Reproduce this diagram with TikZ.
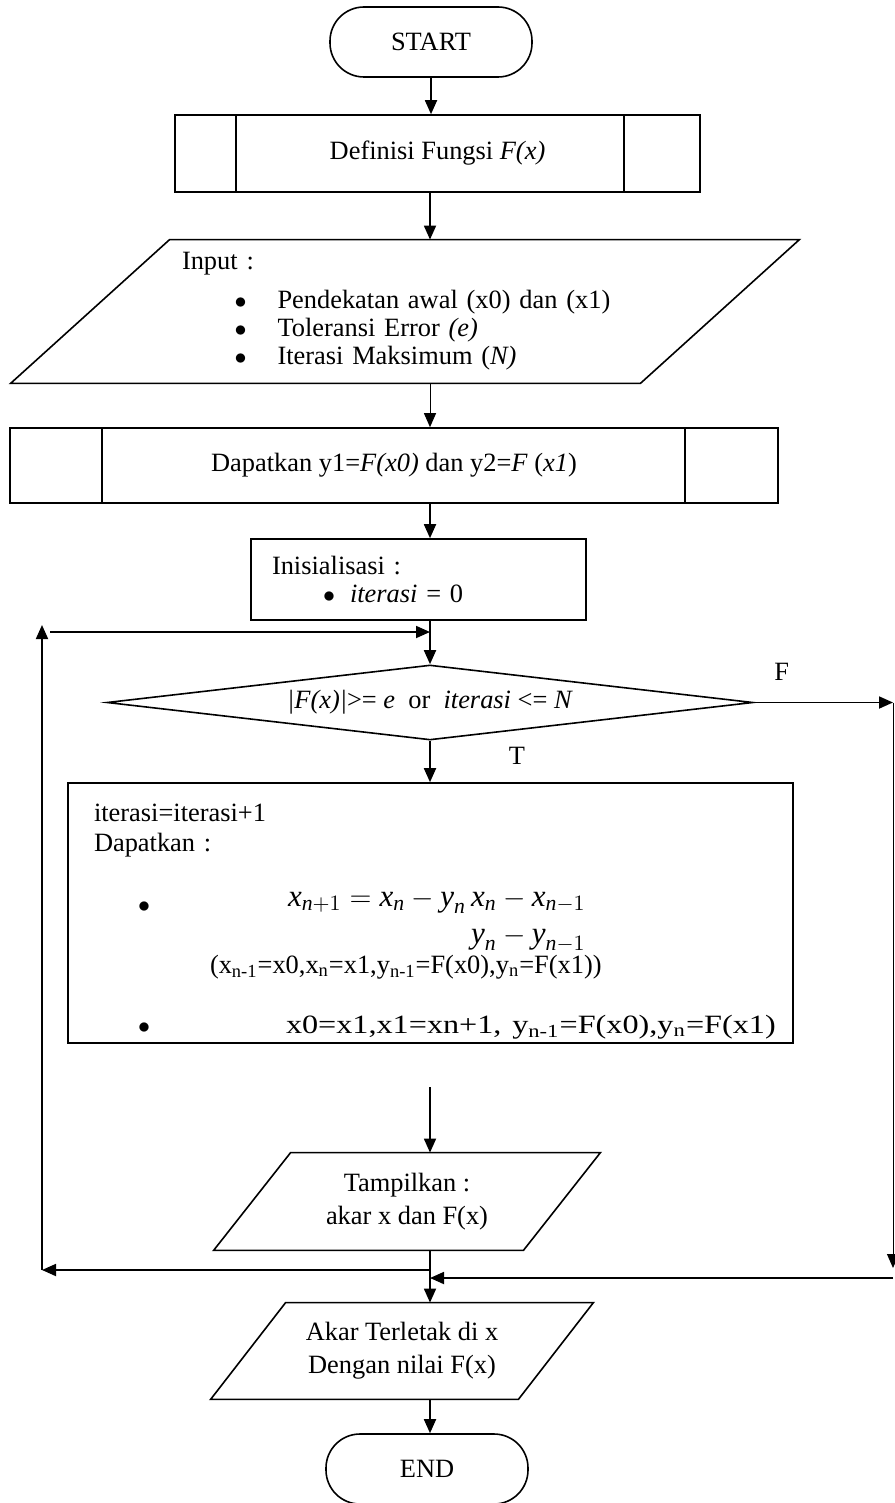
\documentclass[tikz,border=0pt]{standalone}
\usepackage{amsmath}
\usepackage{fontspec}
\setmainfont{Liberation Serif}
\usetikzlibrary{shapes.geometric, arrows.meta, positioning}

\newcommand{\bul}{$\bullet$}

\begin{document}
\begin{tikzpicture}[
  x=0.5pt, y=-0.5pt,
  font=\fontsize{13.2}{15}\selectfont,
  term/.style={draw, rectangle, rounded corners=17pt, line width=0.8pt,
               minimum width=101pt, minimum height=35pt},
  proc/.style={draw, rectangle, line width=0.8pt, inner sep=0pt},
  io/.style={rectangle, inner sep=0pt},
  decision/.style={draw, diamond, aspect=8.6, inner sep=0pt, line width=0.8pt,
                   minimum width=323pt, minimum height=37.5pt},
  edge/.style={line width=0.8pt},
  arrow/.style={-{Triangle[length=7pt, width=6pt]}, line width=0.9pt},
  thinarrow/.style={-{Triangle[length=7pt, width=6pt]}, line width=0.5pt},
]
\useasboundingbox (0,0) rectangle (894,1503);
\coordinate (spine) at (430,0);

\node[term] (start) at (431,42) {START};

\node[proc, minimum width=262.5pt, minimum height=38.5pt] (def) at (437.5,153.5) {\raisebox{3pt}{Definisi Fungsi \textit{F(x)}}};
\draw[edge] ([xshift=31pt]def.north west) -- ([xshift=31pt]def.south west);
\draw[edge] ([xshift=-38.5pt]def.north east) -- ([xshift=-38.5pt]def.south east);

\node[io, text width=314.5pt, minimum height=71.5pt, align=left,
      font=\fontsize{13.2}{14}\selectfont] (inp) at (405,311.5) {%
  \hspace*{45.75pt}Input :\\[5.5pt]
  \hspace*{72pt}\makebox[21.5pt][l]{\bul}Pendekatan awal (x0) dan (x1)\\
  \hspace*{72pt}\makebox[21.5pt][l]{\bul}Toleransi Error \textit{(e)}\\
  \hspace*{72pt}\makebox[21.5pt][l]{\bul}Iterasi Maksimum (\textit{N)}};
\draw[edge] ([xshift=39.75pt]inp.north west) -- ([xshift=39.75pt]inp.north east)
  -- ([xshift=-39.75pt]inp.south east) -- ([xshift=-39.75pt]inp.south west) -- cycle;

\node[proc, minimum width=384pt, minimum height=37.5pt] (dap) at (394,465.5)
  {Dapatkan y1=\textit{F(x0)} dan y2=\textit{F} (\textit{x1})};
\draw[edge] ([xshift=46.5pt]dap.north west) -- ([xshift=46.5pt]dap.south west);
\draw[edge] ([xshift=-47pt]dap.north east) -- ([xshift=-47pt]dap.south east);

\node[proc, minimum width=167.5pt, minimum height=40.5pt, text width=146.5pt,
      inner xsep=10.5pt, align=left, font=\fontsize{13.2}{14}\selectfont] (ini) at (418.5,579.5)
  {Inisialisasi :\\ \hspace*{25.5pt}\makebox[13.5pt][l]{\bul}\textit{iterasi} = 0};

\node[decision] (cond) at (430,702.5)
  {\textit{|F(x)|}>= \textit{e}\enspace or\enspace \textit{iterasi} <= \textit{N}};

\node[proc, minimum width=362.5pt, minimum height=130pt, text width=336.5pt,
      inner xsep=13pt, align=left] (upd) at (430.5,913) {%
  \rule{0pt}{17pt}iterasi=iterasi+1\\
  Dapatkan :\\[12.5pt]
  \hspace*{22pt}\makebox[75pt][l]{\raisebox{-3pt}{\bul}}{\fontsize{15.5}{18.5}\selectfont
  $\textit{x}_{\textit{n}+1} = \textit{x}_{\textit{n}} - \textit{y}_{\textit{n}}$\,%
  \smash{\vtop{\halign{\hfil#\hfil\cr
    $\textit{x}_{\textit{n}} - \textit{x}_{\textit{n}-1}$\cr
    $\textit{y}_{\textit{n}} - \textit{y}_{\textit{n}-1}$\cr}}}}\\[18.5pt]
  \hspace*{58pt}(x\textsubscript{n-1}=x0,x\textsubscript{n}=x1,y\textsubscript{n-1}=F(x0),y\textsubscript{n}=F(x1))\\[15pt]
  \hspace*{22pt}\makebox[74pt][l]{\bul}\scalebox{1.22}[1]{x0=x1,x1=xn+1, y\textsubscript{n-1}=F(x0),y\textsubscript{n}=F(x1)}};

\node[io, minimum width=154.5pt, minimum height=48.5pt, align=center,
      font=\fontsize{13.2}{16.5}\selectfont] (out) at (407,1201.5) {Tampilkan :\\akar x dan F(x)};
\draw[edge] ([xshift=19.25pt]out.north west) -- ([xshift=19.25pt]out.north east)
  -- ([xshift=-19.25pt]out.south east) -- ([xshift=-19.25pt]out.south west) -- cycle;

\node[io, minimum width=153.5pt, minimum height=48pt, align=center,
      font=\fontsize{13.2}{16.5}\selectfont] (res) at (402,1351) {Akar Terletak di x\\Dengan nilai F(x)};
\draw[edge] ([xshift=18.75pt]res.north west) -- ([xshift=18.75pt]res.north east)
  -- ([xshift=-18.75pt]res.south east) -- ([xshift=-18.75pt]res.south west) -- cycle;

\node[term] (stop) at (427,1469) {END};

% loop and exit points
\coordinate (loopin) at (50,632);
\coordinate (looptop) at (42,625);
\coordinate (loopbot) at (42,1270);
\coordinate (fright) at (893,702.5);
\coordinate (fdown) at (893,1268);
\coordinate (fback) at (893,1278);
\coordinate (gap) at (430,1087);

\draw[arrow] (start.south) -- (start.south |- def.north);
\draw[arrow] (def.south -| spine) -- (inp.north -| spine);
\draw[thinarrow] (inp.south -| spine) -- (dap.north -| spine);
\draw[arrow] (dap.south -| spine) -- (ini.north -| spine);
\draw[arrow] (ini.south -| spine) -- (cond.north);
\draw[arrow] (loopin) -- (loopin -| spine);
\draw[arrow] (loopbot) -- (looptop);
\draw[arrow] (cond.east) -- node[above=7pt, pos=0.2] (lblF) {F} (fright);
\draw[thinarrow] (fright) -- (fdown);
\draw[arrow] (fback) -- (fback -| spine);
\draw[arrow] (cond.south) -- (cond.south |- upd.north);
\node (lblT) at (517,756) {T};
\draw[arrow] (gap) -- (out.north -| spine);
\draw[arrow] (out.south -| spine) -- (res.north -| spine);
\draw[arrow] (loopbot -| spine) -- (loopbot);
\draw[arrow] (res.south -| spine) -- (stop.north -| spine);
\end{tikzpicture}
\end{document}
